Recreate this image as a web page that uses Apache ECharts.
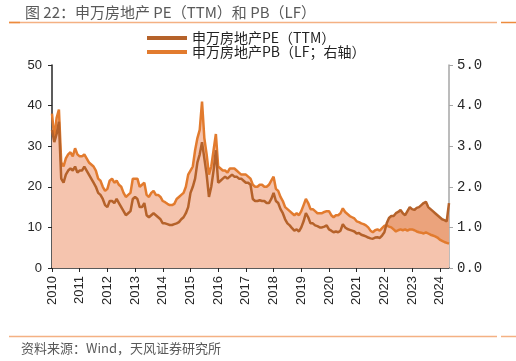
<!DOCTYPE html>
<html>
<head>
<meta charset="utf-8">
<script src="https://cdn.jsdelivr.net/npm/echarts@6/dist/echarts.min.js"></script>
<style>html,body{margin:0;padding:0;background:#fff;}#c{width:516px;height:361px;}</style>
</head>
<body>
<div id="c"></div>
<script>
// Monthly values, starting 2010-01, ending 2024-05
const startYear = 2010;
const yearTicks = [2010,2011,2012,2013,2014,2015,2016,2017,2018,2019,2020,2021,2022,2023,2024];
const leftTicks = [0,10,20,30,40,50];
const rightTicks = [0,1,2,3,4,5];
const peName = '申万房地产PE（TTM）';
const pbName = '申万房地产PB（LF；右轴）';
const pe = [
  34,31,33,36,22,21,23,24,24.5,24,25,23.5,
  24,24,25,24,23,22,21,20,18.5,18,17,15.5,
  15,16.5,16.5,16,17,16,15,14,13,13.5,14,17,
  17.5,17,15,15,16,13,12.5,13,13.5,13,12.5,12,
  11,11,10.8,10.6,10.6,10.8,11,11.3,12,12.5,13.5,15,
  18.5,20,22,26,28,31,27,23,17.5,20,24,29,
  21,21.5,22,22.5,22,22.5,23,22.5,22.5,22,22,21.5,
  21,21,20.5,17,16.5,16.5,16.7,16.5,16.5,16,16,17,
  18.5,16.5,16,14.5,13.5,12,11,10.5,9.8,9.2,9.5,9,
  10,11.5,13.5,12.5,11,11,10.5,10.3,10,10,10.2,10.5,
  9.5,9.2,8.8,9,8.8,9.2,10.8,10,9.6,9.4,9.2,9,
  8.5,8.6,8.2,8.0,7.8,7.5,7.3,7.2,7.5,7.6,7.4,8.0,
  8.8,11,12.3,12.8,12.8,13.5,13.8,14.3,13.5,13,14,15,
  14.5,14.3,14.8,15,15.5,16,16.3,15,14.5,14,13.5,13,
  12.5,12,11.8,11.5,16
];
const pb = [
  3.8,3.2,3.7,3.9,2.6,2.5,2.7,2.8,2.85,2.75,2.95,2.8,
  2.75,2.75,2.8,2.7,2.6,2.55,2.5,2.4,2.2,2.15,2.0,1.9,
  1.95,2.15,2.2,2.1,2.15,2.05,2.0,1.85,1.75,1.8,1.85,2.2,
  2.2,2.2,2.0,2.05,2.1,1.8,1.75,1.85,1.9,1.8,1.8,1.75,
  1.65,1.62,1.58,1.55,1.55,1.58,1.7,1.75,1.8,1.85,2.0,2.3,
  2.4,2.5,2.9,3.2,3.4,4.1,3.2,2.8,2.3,2.5,2.9,3.3,
  2.5,2.45,2.4,2.4,2.35,2.45,2.45,2.45,2.4,2.35,2.3,2.3,
  2.3,2.25,2.2,2.05,2.0,2.0,2.05,2.05,2.0,2.0,2.05,2.15,
  2.25,1.95,1.9,1.75,1.65,1.5,1.45,1.4,1.35,1.3,1.35,1.3,
  1.4,1.55,1.7,1.6,1.45,1.45,1.4,1.35,1.35,1.35,1.38,1.4,
  1.4,1.3,1.25,1.3,1.3,1.35,1.47,1.38,1.33,1.28,1.25,1.22,
  1.15,1.13,1.1,1.08,1.05,1.0,0.92,0.88,0.93,0.95,0.92,0.98,
  1.04,1.05,1.02,1.0,0.95,0.9,0.93,0.95,0.93,0.95,0.92,0.95,
  0.95,0.93,0.9,0.88,0.87,0.85,0.88,0.85,0.82,0.8,0.78,0.75,
  0.7,0.67,0.64,0.62,0.6
];

const toXY = arr => arr.map((v, i) => [startYear + i / 12, v]);
const peData = toXY(pe);
const pbData = toXY(pb);
const xMax = startYear + (pe.length - 1) / 12;

const C_PE = '#B5622A';
const C_PB = '#E27B2E';
const A_PE = '#EBA37C';
const A_PB = '#F5C4AE';
const LINE_ORANGE = '#F4B183';

const chart = echarts.init(document.getElementById('c'), null, {renderer: 'canvas'});
chart.setOption({
  animation: false,
  backgroundColor: '#ffffff',
  title: {
    text: '图 22：申万房地产 PE（TTM）和 PB（LF）',
    left: 20, top: 0,
    textStyle: {fontSize: 15, fontWeight: 'normal', color: '#595959', fontFamily: 'Noto Sans CJK SC'}
  },
  legend: {
    orient: 'vertical',
    left: 142, top: 26,
    itemWidth: 40, itemHeight: 4, itemGap: 0,
    icon: 'rect',
    data: [peName, pbName],
    textStyle: {fontSize: 14, lineHeight: 14, color: '#222', fontFamily: 'Noto Sans CJK SC'}
  },
  grid: {left: 52, right: 67, top: 65, bottom: 93, containLabel: false},
  xAxis: {
    type: 'value', min: startYear, max: xMax,
    splitLine: {show: false},
    axisLine: {show: true, lineStyle: {color: '#262626', width: 1.5}},
    axisTick: {show: true, length: 4, lineStyle: {color: '#262626'}, customValues: yearTicks},
    axisLabel: {rotate: 90, margin: 8, fontSize: 13, color: '#262626', fontFamily: 'Liberation Sans',
      customValues: yearTicks, formatter: v => String(Math.round(v))}
  },
  yAxis: [{
    type: 'value', min: 0, max: 50, interval: 10,
    splitLine: {show: false},
    axisLine: {show: true, lineStyle: {color: '#262626', width: 1.5}},
    axisTick: {show: true, length: 4, lineStyle: {color: '#262626'}},
    axisLabel: {fontSize: 13, margin: 10, color: '#262626', fontFamily: 'Liberation Sans'}
  }, {
    type: 'value', min: 0, max: 5, interval: 1, position: 'right',
    splitLine: {show: false},
    axisLine: {show: true, lineStyle: {color: '#A6A6A6', width: 1.5}},
    axisTick: {show: true, length: 4, lineStyle: {color: '#A6A6A6'}},
    axisLabel: {fontSize: 14, margin: 8, color: '#262626', fontFamily: 'Liberation Mono',
      formatter: v => v.toFixed(1)}
  }],
  series: [
    {type: 'line', data: peData, yAxisIndex: 0, symbol: 'none', silent: true, z: 1,
      lineStyle: {width: 0}, areaStyle: {color: A_PE, opacity: 1}, itemStyle: {color: A_PE}},
    {type: 'line', data: pbData, yAxisIndex: 1, symbol: 'none', silent: true, z: 2,
      lineStyle: {width: 0}, areaStyle: {color: A_PB, opacity: 1}, itemStyle: {color: A_PB}},
    {name: peName, type: 'line', data: peData, yAxisIndex: 0, symbol: 'none', z: 4,
      lineStyle: {width: 2.5, color: C_PE}, itemStyle: {color: C_PE}},
    {name: pbName, type: 'line', data: pbData, yAxisIndex: 1, symbol: 'none', z: 3,
      lineStyle: {width: 2.5, color: C_PB}, itemStyle: {color: C_PB}}
  ],
  graphic: [
    {type: 'line', shape: {x1: 9, y1: 22.5, x2: 497, y2: 22.5}, style: {stroke: LINE_ORANGE, lineWidth: 1.5}},
    {type: 'line', shape: {x1: 9, y1: 22.5, x2: 20, y2: 22.5}, style: {stroke: '#ED8B3C', lineWidth: 1.5}},
    {type: 'line', shape: {x1: 501, y1: 22.5, x2: 516, y2: 22.5}, style: {stroke: '#ED8B3C', lineWidth: 1.5}},
    {type: 'line', shape: {x1: 9, y1: 336.5, x2: 497, y2: 336.5}, style: {stroke: LINE_ORANGE, lineWidth: 1.5}},
    {type: 'line', shape: {x1: 501, y1: 336.5, x2: 516, y2: 336.5}, style: {stroke: LINE_ORANGE, lineWidth: 1.5}},
    {type: 'text', left: 21, top: 342,
      style: {text: '资料来源：Wind，天风证券研究所', fontSize: 13, fill: '#595959', fontFamily: 'Noto Sans CJK SC'}}
  ]
});
</script>
</body>
</html>
